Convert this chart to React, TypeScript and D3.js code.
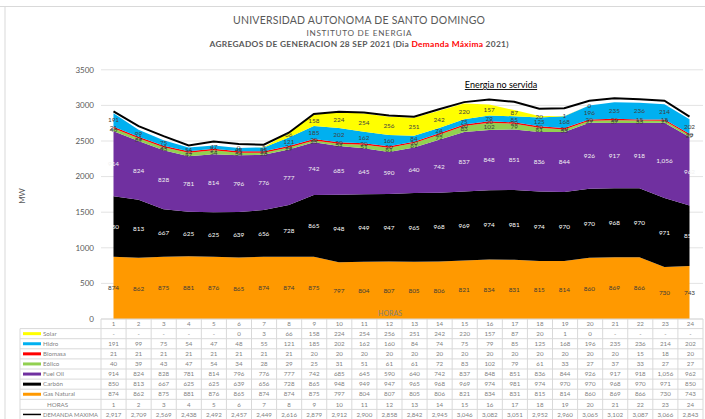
import * as d3 from 'd3';

const hours = d3.range(1, 25);

const solar = [null, null, null, null, null, 0, 3, 66, 158, 224, 254, 256, 251, 242, 220, 157, 87, 20, 1, 0, null, null, null, null];
const hidro = [191, 99, 75, 54, 47, 48, 55, 121, 185, 202, 162, 160, 84, 74, 75, 79, 85, 125, 168, 196, 235, 236, 214, 202];
const biomasa = [21, 21, 21, 21, 21, 21, 21, 21, 20, 20, 20, 20, 20, 20, 20, 20, 20, 20, 20, 20, 20, 15, 18, 20];
const eolico = [40, 39, 43, 47, 54, 34, 28, 29, 25, 31, 51, 61, 61, 72, 83, 102, 79, 61, 33, 27, 37, 33, 27, 27];
const fuelOil = [914, 824, 828, 781, 814, 796, 776, 777, 742, 685, 645, 590, 640, 742, 837, 848, 851, 836, 844, 926, 917, 918, 1056, 962];
const carbon = [850, 813, 667, 625, 625, 639, 656, 728, 865, 948, 949, 947, 965, 968, 969, 974, 981, 974, 970, 970, 968, 970, 971, 850];
const gasNatural = [874, 862, 875, 881, 876, 865, 874, 874, 875, 797, 804, 807, 805, 806, 821, 834, 831, 815, 814, 860, 869, 866, 730, 743];
const demanda = [2917, 2709, 2569, 2438, 2492, 2457, 2449, 2616, 2879, 2912, 2900, 2858, 2842, 2945, 3046, 3082, 3051, 2952, 2960, 3065, 3102, 3087, 3066, 2843];
const yTicks = [0, 500, 1000, 1500, 2000, 2500, 3000, 3500];

// stacked bottom -> top
const series = [
  { key: 'gas', name: 'Gas Natural', values: gasNatural, color: '#ff9900', label: '#3b3b3b' },
  { key: 'carbon', name: 'Carbón', values: carbon, color: '#000000', label: '#ffffff' },
  { key: 'fuel', name: 'Fuel Oil', values: fuelOil, color: '#7030a0', label: '#f2f2f2' },
  { key: 'eolico', name: 'Eólico', values: eolico, color: '#92d050', label: '#404040' },
  { key: 'biomasa', name: 'Biomasa', values: biomasa, color: '#ff0000', label: '#404040' },
  { key: 'hidro', name: 'Hidro', values: hidro, color: '#00b0f0', label: '#404040' },
  { key: 'solar', name: 'Solar', values: solar, color: '#ffff00', label: '#404040' },
];

const W = 705;
const H = 419;
const FONT = 'Lato, "Open Sans", sans-serif';
const fmt = d3.format(',');

export default function App() {
  const x = d3.scaleLinear().domain([1, 24]).range([113.5, 689.5]);
  const y = d3.scaleLinear().domain([0, 3500]).range([319, 69.8]);

  const rows = hours.map((h, i) => {
    const r: any = { hour: h };
    series.forEach((s) => (r[s.key] = s.values[i] ?? 0));
    return r;
  });
  const stacked = d3.stack().keys(series.map((s) => s.key))(rows);

  const area = d3
    .area<any>()
    .x((d) => x(d.data.hour))
    .y0((d) => y(d[0]))
    .y1((d) => y(d[1]));

  const demandLine = d3
    .line<number>()
    .x((_, i) => x(hours[i]))
    .y((d) => y(d));

  // table geometry
  const colLeft = 101;
  const colW = (703 - 101) / 24;
  const headTop = 319;
  const rowTop = 328.6;
  const rowH = 10.1;
  const tableRows = [...series].reverse();
  const legendLeft = 20;

  return (
    <svg width={W} height={H} style={{ position: 'absolute', left: 0, top: 0 }} fontFamily={FONT}>
      <rect width={W} height={H} fill="#fff" />
      <line x1={0} x2={W} y1={6.5} y2={6.5} stroke="#d9d9d9" />
      <line x1={5} x2={5} y1={6.5} y2={H} stroke="#d9d9d9" />

      {/* titles */}
      <text x={359} y={24} textAnchor="middle" fontSize={10.5} fill="#595959" textLength={252} lengthAdjust="spacing">
        UNIVERSIDAD AUTONOMA DE SANTO DOMINGO
      </text>
      <text x={359} y={35.5} textAnchor="middle" fontSize={8.2} fill="#595959" textLength={105} lengthAdjust="spacing">
        INSTITUTO DE ENERGIA
      </text>
      <text x={359} y={47} textAnchor="middle" fontSize={8.4} fontWeight="bold" fill="#595959" textLength={299} lengthAdjust="spacing">
        AGREGADOS DE GENERACION 28 SEP 2021 (Dia <tspan fill="#ff0000">Demanda Máxima</tspan> 2021)
      </text>

      {/* grid + y axis */}
      {yTicks.map((t) => (
        <g key={t}>
          <line x1={101} x2={703} y1={y(t)} y2={y(t)} stroke="#e3e3e3" />
          <text x={94} y={y(t) + 2.8} textAnchor="end" fontSize={8} fill="#595959">
            {t}
          </text>
        </g>
      ))}
      <text transform="translate(25,196) rotate(-90)" textAnchor="middle" fontSize={8} fill="#595959">
        MW
      </text>

      {/* stacked areas */}
      {stacked.map((layer, li) => (
        <path key={layer.key} d={area(layer as any) ?? ''} fill={series[li].color} />
      ))}

      {/* demand line */}
      <path d={demandLine(demanda) ?? ''} fill="none" stroke="#000" strokeWidth={2} />

      {/* data labels */}
      {stacked.map((layer, li) =>
        layer.map((d: any, i: number) => {
          const v = series[li].values[i];
          if (v == null) return null;
          return (
            <text
              key={layer.key + i}
              x={x(hours[i])}
              y={y((d[0] + d[1]) / 2) + 2.3}
              textAnchor="middle"
              fontSize={6.4}
              fill={series[li].label}
            >
              {fmt(v)}
            </text>
          );
        })
      )}

      <text x={390} y={316} textAnchor="middle" fontSize={7} fill="#7f7f7f">
        HORAS
      </text>
      <text x={501} y={88} textAnchor="middle" fontSize={9} fill="#000" textDecoration="underline">
        Energia no servida
      </text>

      {/* data table */}
      <g fontSize={6.2} fill="#7f7f7f">
        {/* header row */}
        <line x1={colLeft} x2={703} y1={headTop} y2={headTop} stroke="#d9d9d9" />
        {hours.map((h, i) => (
          <text key={'h' + h} x={colLeft + colW * (i + 0.5)} y={headTop + 6.6} textAnchor="middle">
            {h}
          </text>
        ))}
        {d3.range(25).map((i) => (
          <line
            key={'v' + i}
            x1={colLeft + colW * i}
            x2={colLeft + colW * i}
            y1={headTop}
            y2={H}
            stroke="#d9d9d9"
          />
        ))}
        <line x1={legendLeft} x2={legendLeft} y1={rowTop} y2={H} stroke="#d9d9d9" />
        {d3.range(10).map((i) => (
          <line
            key={'r' + i}
            x1={legendLeft}
            x2={703}
            y1={rowTop + rowH * i}
            y2={rowTop + rowH * i}
            stroke="#d9d9d9"
          />
        ))}
        {tableRows.map((s, ri) => {
          const cy = rowTop + rowH * (ri + 0.5);
          return (
            <g key={s.key}>
              <line x1={23} x2={41} y1={cy} y2={cy} stroke={s.color} strokeWidth={3} />
              <text x={43} y={cy + 2.2}>{s.name}</text>
              {s.values.map((v, i) => (
                <text key={i} x={colLeft + colW * (i + 0.5)} y={cy + 2.2} textAnchor="middle">
                  {v == null ? '-' : fmt(v)}
                </text>
              ))}
            </g>
          );
        })}
        <text x={47} y={rowTop + rowH * 7.5 + 2.2}>HORAS</text>
        {hours.map((h, i) => (
          <text key={'hh' + h} x={colLeft + colW * (i + 0.5)} y={rowTop + rowH * 7.5 + 2.2} textAnchor="middle">
            {h}
          </text>
        ))}
        <line
          x1={23}
          x2={41}
          y1={rowTop + rowH * 8.5}
          y2={rowTop + rowH * 8.5}
          stroke="#000"
          strokeWidth={1.5}
        />
        <text x={43} y={rowTop + rowH * 8.5 + 2.2} textLength={55} lengthAdjust="spacingAndGlyphs">
          DEMANDA MAXIMA
        </text>
        {demanda.map((v, i) => (
          <text key={'d' + i} x={colLeft + colW * (i + 0.5)} y={rowTop + rowH * 8.5 + 2.2} textAnchor="middle">
            {fmt(v)}
          </text>
        ))}
      </g>
    </svg>
  );
}
